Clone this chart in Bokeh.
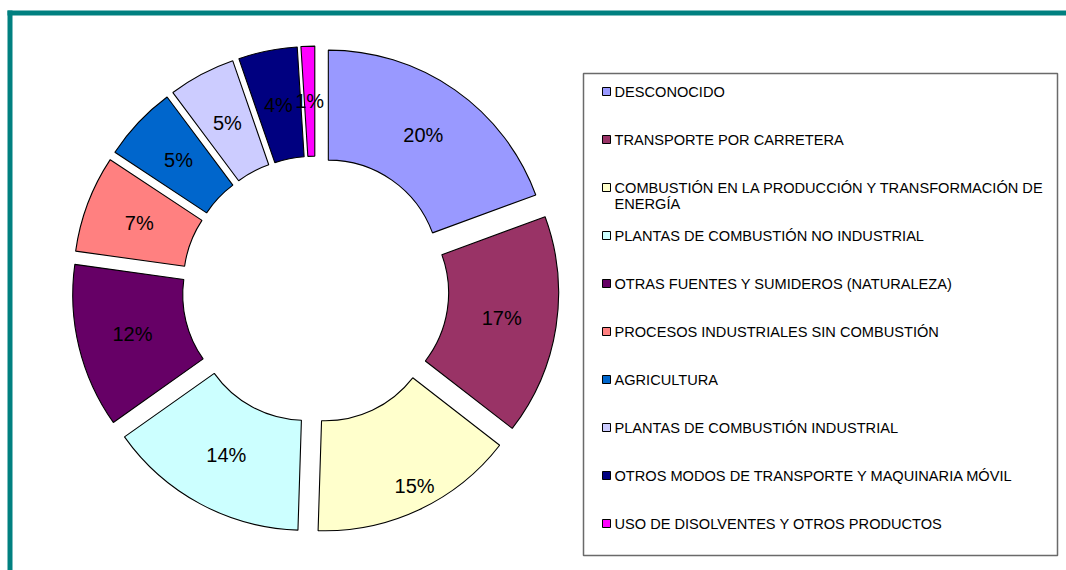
import textwrap
import numpy as np
from bokeh.plotting import figure
from bokeh.models import Range1d, ColumnDataSource
from bokeh.embed import file_html
from bokeh.resources import INLINE
from bokeh.core.properties import value

# ---------------- data ----------------
categories = [
    "DESCONOCIDO",
    "TRANSPORTE POR CARRETERA",
    "COMBUSTIÓN EN LA PRODUCCIÓN Y TRANSFORMACIÓN DE ENERGÍA",
    "PLANTAS DE COMBUSTIÓN NO INDUSTRIAL",
    "OTRAS FUENTES Y SUMIDEROS (NATURALEZA)",
    "PROCESOS INDUSTRIALES SIN COMBUSTIÓN",
    "AGRICULTURA",
    "PLANTAS DE COMBUSTIÓN INDUSTRIAL",
    "OTROS MODOS DE TRANSPORTE Y MAQUINARIA MÓVIL",
    "USO DE DISOLVENTES Y OTROS PRODUCTOS",
]
# slice shares as drawn
shares = [19.4, 16.1, 15.0, 14.7, 12.0, 7.1, 5.5, 4.9, 4.3, 1.0]
# data labels as printed on the chart
pct_labels = ["20%", "17%", "15%", "14%", "12%", "7%", "5%", "5%", "4%", "1%"]
colors = ["#9999FF", "#993366", "#FFFFCC", "#CCFFFF", "#660066",
          "#FF8080", "#0066CC", "#CCCCFF", "#000080", "#FF00FF"]

# ---------------- layout ----------------
W, H = 1066, 570
FONT = "Liberation Sans"
cx, cy = 315.0, -289.0      # screen pixel coords, y flipped
R_OUT, R_IN, EXPLODE = 221.0, 111.0, 22.4
LABEL_EXTRA = {2: (32.0, -1.5)}   # (extra radius px, angle shift deg) for a moved label

p = figure(width=W, height=H, x_range=Range1d(0, W), y_range=Range1d(-H, 0),
           output_backend="svg", toolbar_location=None,
           x_axis_location=None, y_axis_location=None,
           min_border=0, min_border_left=0, min_border_right=0,
           min_border_top=0, min_border_bottom=0)
p.grid.visible = False
p.outline_line_color = None
p.background_fill_color = "white"
p.border_fill_color = "white"

# teal frame (top and left bands)
p.quad(left=[7, 7], right=[1070, 12], top=[-10, -10], bottom=[-15, -575],
       fill_color="#008080", line_color=None)

# doughnut
frac = np.array(shares, dtype=float) / np.sum(shares)
cum = np.concatenate([[0.0], np.cumsum(frac)])
th0 = cum[:-1] * 2 * np.pi
th1 = cum[1:] * 2 * np.pi
mid = (th0 + th1) / 2
xs = cx + EXPLODE * np.sin(mid)
ys = cy + EXPLODE * np.cos(mid)
src = ColumnDataSource(dict(x=xs, y=ys, start=np.pi / 2 - th1, end=np.pi / 2 - th0,
                            color=colors, name=categories))
p.annular_wedge(x="x", y="y", inner_radius=R_IN, outer_radius=R_OUT,
                start_angle="start", end_angle="end", direction="anticlock",
                fill_color="color", line_color="black", line_width=1.1, source=src)

rl = np.full(len(shares), EXPLODE + (R_IN + R_OUT) / 2)
la = mid.copy()
for k, (dr, da) in LABEL_EXTRA.items():
    rl[k] += dr
    la[k] += np.deg2rad(da)
lab = ColumnDataSource(dict(x=cx + rl * np.sin(la), y=cy + rl * np.cos(la), t=pct_labels))
p.text(x="x", y="y", text="t", source=lab, text_font=value(FONT), text_font_size="20px",
       text_color="black", text_align="center", text_baseline="middle")

# legend (drawn manually)
LX0, LX1, LY0, LY1 = 583, 1057, 73, 555
p.quad(left=[LX0], right=[LX1], top=[-LY0], bottom=[-LY1],
       fill_color="white", line_color="#6a6a6a", line_width=1.5)
first_y = 91
step = 48
mk_y = [-(first_y + step * i) for i in range(len(categories))]
p.rect(x=[606] * len(categories), y=mk_y, width=8, height=8,
       fill_color=colors, line_color="black", line_width=1)
tx, ty, tt = [], [], []
for i, name in enumerate(categories):
    for j, line in enumerate(textwrap.wrap(name, 47)):
        tx.append(614)
        ty.append(-(first_y + step * i + 16 * j))
        tt.append(line)
p.text(x=tx, y=ty, text=tt, text_font=value(FONT), text_font_size="14.6px",
       text_color="black", text_align="left", text_baseline="middle")

open("out.html", "w").write(file_html(p, INLINE))
